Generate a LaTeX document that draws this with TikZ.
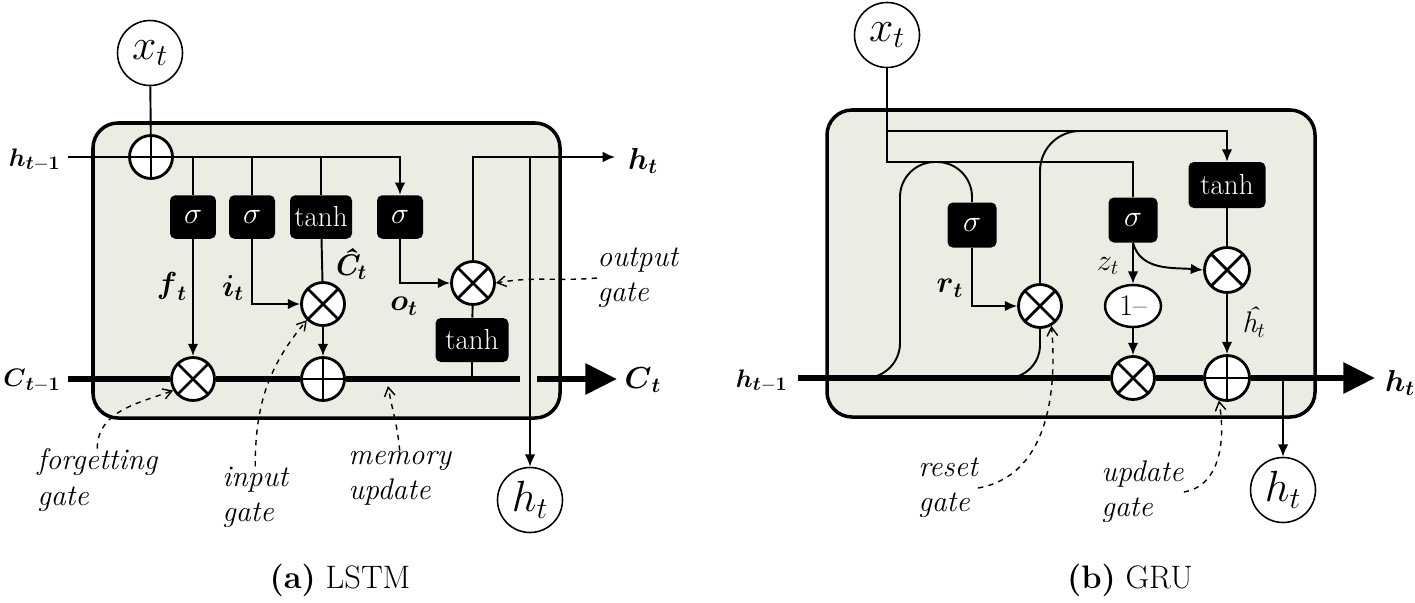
\documentclass[tikz,border=0pt]{standalone}
\usepackage{amsmath}
\usepackage{tikz}
\usetikzlibrary{shapes.geometric, arrows.meta, positioning, calc}
\definecolor{cellfill}{HTML}{EDECE2}
\newcommand{\bvar}[2]{$\boldsymbol{#1}_{\boldsymbol{#2}}$}
\tikzstyle{cell} = [draw=black, line width=2pt, fill=cellfill, rounded corners=0.5cm]
\tikzstyle{gatebox} = [rectangle, fill=black, text=white, rounded corners=3pt, minimum width=0.92cm, minimum height=0.87cm, inner sep=1pt, font=\fontsize{16.5}{16.5}\selectfont]
\tikzstyle{io} = [circle, draw=black, line width=0.9pt, fill=white, minimum size=1.3cm, inner sep=0pt, font=\fontsize{25}{25}\selectfont]
\tikzstyle{mult} = [circle, draw=black, line width=1.6pt, fill=white, minimum size=0.86cm, inner sep=0pt, path picture={\draw[line width=1.6pt] (path picture bounding box.north west) -- (path picture bounding box.south east) (path picture bounding box.south west) -- (path picture bounding box.north east);}]
\tikzstyle{add} = [circle, draw=black, line width=1.6pt, fill=white, minimum size=0.86cm, inner sep=0pt, path picture={\draw[line width=1.6pt] (path picture bounding box.north) -- (path picture bounding box.south) (path picture bounding box.west) -- (path picture bounding box.east);}]
\tikzstyle{arrow} = [line width=1.1pt, -{Latex[length=7pt,width=6pt]}]
\tikzstyle{line} = [line width=1.1pt]
\tikzstyle{bus} = [line width=3.6pt]
\tikzstyle{busarrow} = [line width=3.6pt, -{Triangle[length=18pt,width=17pt]}]
\tikzstyle{note} = [dashed, line width=0.8pt, -{Straight Barb[length=5pt,width=6pt]}]
\tikzstyle{notetext} = [font=\itshape\fontsize{17}{20}\selectfont, align=left, inner sep=0pt]
\tikzstyle{var} = [font=\fontsize{17}{17}\selectfont, inner sep=0pt]
\tikzstyle{caption} = [font=\fontsize{18.5}{20}\selectfont]

\begin{document}
\begin{tikzpicture}[x=0.02cm, y=0.02cm]
    \useasboundingbox (0,0) rectangle (1415,-602);

    % (a) LSTM
    \draw[cell] (93,-123) rectangle (560,-418);

    % Nodes
    \node (xt1) [io] at (150,-53) {$x_t$};
    \node (addx) [add] at (151,-157) {};
    \node (sf) [gatebox] at (193,-217) {$\sigma$};
    \node (si) [gatebox] at (252,-217) {$\sigma$};
    \node (tc) [gatebox, minimum width=1.24cm] at (321,-217) {tanh};
    \node (so) [gatebox] at (400,-217) {$\sigma$};
    \node (multI) [mult] at (323,-304) {};
    \node (multC) [mult] at (193,-379) {};
    \node (addC) [add] at (323,-379) {};
    \node (multO) [mult] at (473,-283) {};
    \node (tanhO) [gatebox, minimum width=1.46cm, minimum height=0.88cm] at (472,-340) {tanh};
    \node (ht1) [io] at (530,-500) {$h_t$};

    \coordinate (hin1) at (68,-157);
    \coordinate (hout1) at (615,-157);
    \coordinate (cin1) at (68,-379);
    \coordinate (cgap1) at (520,-379);
    \coordinate (cgap2) at (537,-379);
    \coordinate (cout1) at (617,-379);
    \coordinate (memu) at (388,-386);

    \node (hprev1) [var, anchor=east, font=\fontsize{15.5}{15.5}\selectfont] at (61,-160) {$\boldsymbol{h}_{\boldsymbol{t}-\mathbf{1}}$};
    \node (cprev1) [var, anchor=east, font=\fontsize{15.5}{15.5}\selectfont] at (61,-381) {$\boldsymbol{C}_{\boldsymbol{t}-\mathbf{1}}$};
    \node (hnext1) [var] at (643,-161) {\bvar{h}{t}};
    \node (cnext1) [var] at (643,-380) {\bvar{C}{t}};
    \node (ft) [var] at (172,-286) {\bvar{f}{t}};
    \node (it) [var] at (233,-288) {\bvar{i}{t}};
    \node (ct) [var] at (350,-264) {{\bfseries\itshape Ĉ}$_{\boldsymbol{t}}$};
    \node (ot) [var] at (404,-306) {\bvar{o}{t}};

    % Arrows
    \draw [line] (xt1) -- (addx);
    \draw [line] (hin1) -- (addx);
    \draw [arrow] (addx) -| (so);
    \draw [line] (sf) -- (sf |- addx);
    \draw [line] (si) -- (si |- addx);
    \draw [line] (tc) -- (tc |- addx);
    \draw [arrow] (sf) -- (multC);
    \draw [arrow] (si) |- (multI);
    \draw [line] (tc) -- (multI);
    \draw [arrow] (multI) -- (addC);
    \draw [arrow] (so) |- (multO);
    \draw [line] (tanhO) -- (multO);
    \draw [line] (tanhO) -- (tanhO |- addC);
    \draw [arrow] (multO) |- (hout1);
    \draw [arrow] (ht1 |- hout1) -- (ht1);
    \draw [bus] (cin1) -- (multC);
    \draw [bus] (multC) -- (addC);
    \draw [bus] (addC) -- (cgap1);
    \draw [busarrow] (cgap2) -- (cout1);

    % gate notes
    \node (fgate) [notetext, anchor=west] at (37,-480) {forgetting\\gate};
    \node (igate) [notetext, anchor=west] at (222,-497) {input\\gate};
    \node (mupd) [notetext, anchor=west] at (348,-478) {memory\\update};
    \node (ogate) [notetext, anchor=west] at (597,-278) {output\\gate};
    \draw [note] (fgate.north) to[out=90, in=200] (multC.210);
    \draw [note] (igate.north) to[out=90, in=230] (multI.225);
    \draw [note] (mupd.north) to[out=95, in=-80] (memu);
    \draw [note] (ogate.west) to[out=185, in=10] (multO.east);

    \node (capa) [caption] at (340,-580) {\textbf{(a)} LSTM};

    % (b) GRU
    \draw[cell] (827,-110) rectangle (1315,-417);

    % Nodes
    \node (xt2) [io] at (887,-35) {$x_t$};
    \node (sr) [gatebox, minimum width=0.98cm, minimum height=0.9cm] at (972,-225) {$\sigma$};
    \node (sz) [gatebox, minimum width=0.98cm, minimum height=0.9cm] at (1133,-220) {$\sigma$};
    \node (th) [gatebox, minimum width=1.54cm, minimum height=0.92cm] at (1227,-185) {tanh};
    \node (multR) [mult] at (1040,-306) {};
    \node (onem) [ellipse, draw=black, line width=1.4pt, fill=white, minimum width=1.12cm, minimum height=0.84cm, inner sep=0pt, font=\fontsize{17}{17}\selectfont] at (1133,-306) {1--};
    \node (multZ) [mult] at (1133,-378) {};
    \node (multH) [mult, minimum size=0.9cm] at (1227,-270) {};
    \node (addH) [add, minimum size=0.9cm] at (1227,-378) {};
    \node (ht2) [io] at (1283,-490) {$h_t$};

    \coordinate (hin2) at (798,-378);
    \coordinate (hout2) at (1375,-378);
    \coordinate (jlo) at (887,-162);
    \coordinate (jhi) at (887,-131);
    \coordinate (loopA) at (900,-162);
    \coordinate (tapA) at (850,-378);
    \coordinate (tapB) at (985,-378);
    \coordinate (rjoin) at (1110,-131);

    \node (hprev2) [var, anchor=east, font=\fontsize{15.5}{15.5}\selectfont] at (788,-381) {$\boldsymbol{h}_{\boldsymbol{t}-\mathbf{1}}$};
    \node (hnext2) [var] at (1400,-383) {\bvar{h}{t}};
    \node (rt) [var] at (950,-288) {\bvar{r}{t}};
    \node (zt) [var] at (1108,-266) {$z_t$};
    \node (hh) [var] at (1254,-322) {{\itshape ĥ}$_t$};

    % Arrows
    \draw [line] (xt2) -- (jlo) -| (sz);
    \draw [arrow] (jhi) -| (th);
    \draw [line, rounded corners=0.7cm] (tapA) -| (loopA) -| (sr);
    \draw [line, rounded corners=0.66cm] (tapB) -| (multR);
    \draw [line, rounded corners=0.8cm] (multR) |- (rjoin);
    \draw [arrow] (sr) |- (multR);
    \draw [arrow] (sz) -- (onem);
    \draw [arrow] (sz.south) to[out=-75, in=175] (multH.west);
    \draw [line] (th) -- (multH);
    \draw [arrow] (multH) -- (addH);
    \draw [arrow] (onem) -- (multZ);
    \draw [bus] (hin2) -- (multZ);
    \draw [bus] (multZ) -- (addH);
    \draw [busarrow] (addH) -- (hout2);
    \draw [arrow] (ht2 |- hout2) -- (ht2);

    % gate notes
    \node (rgate) [notetext, anchor=west] at (918,-488) {reset\\gate};
    \node (ugate) [notetext, anchor=west] at (1101,-492) {update\\gate};
    \draw [note] (rgate.east) to[out=10, in=-85] (multR.-60);
    \draw [note] (ugate.east) to[out=10, in=-80] (addH.-110);

    \node (capb) [caption] at (1130,-580) {\textbf{(b)} GRU};

\end{tikzpicture}
\end{document}
